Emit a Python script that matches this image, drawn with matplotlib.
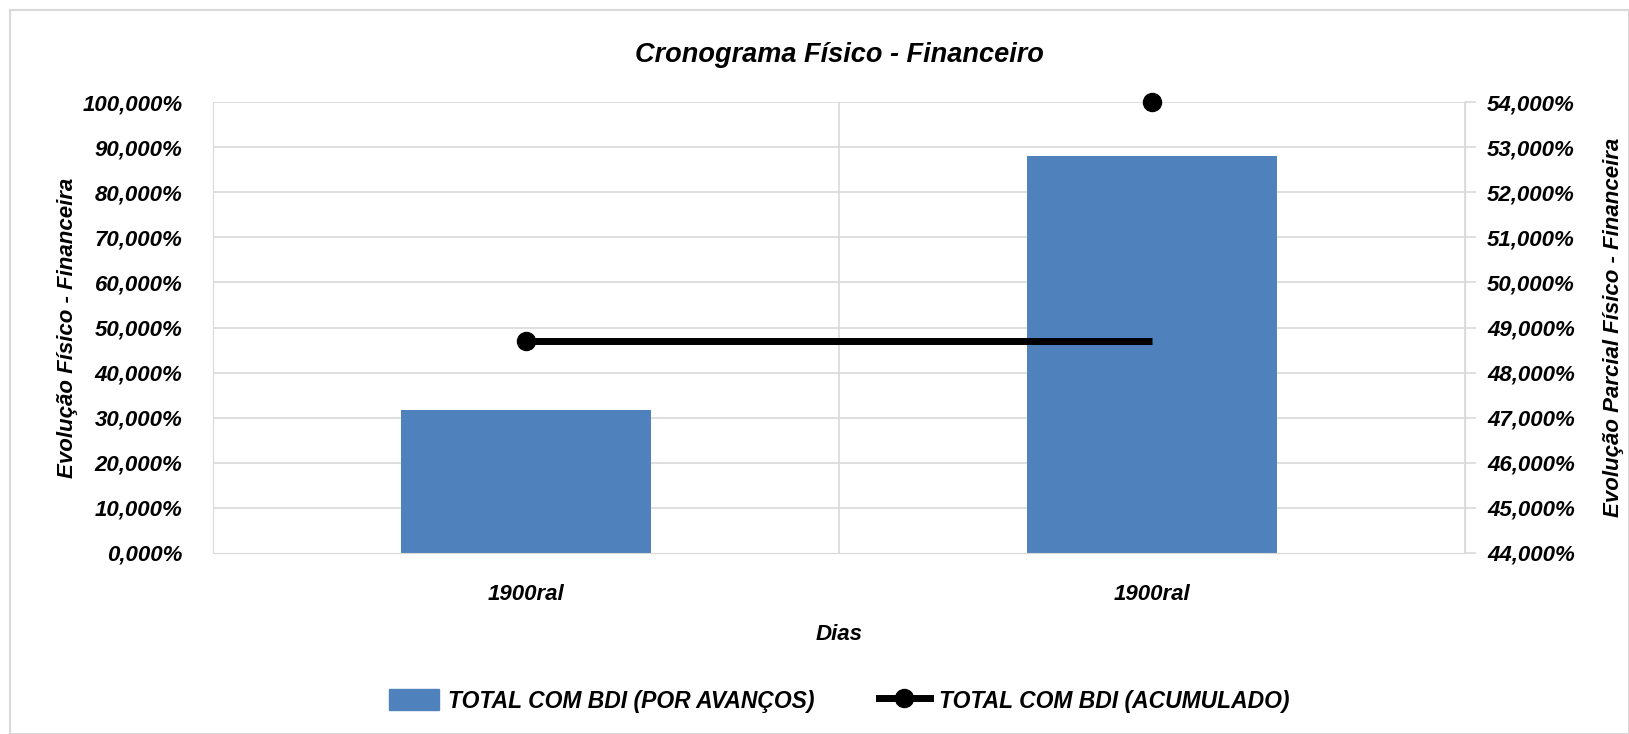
import matplotlib.pyplot as plt
from matplotlib.patches import Rectangle
from matplotlib.lines import Line2D
import numpy as np

categories = ['1900ral', '1900ral']
por_avancos = [31.7, 88.0]
acumulado_line = [48.7, 48.7]
acumulado_marks = [48.7, 54.0]

FONT = ['Liberation Sans', 'DejaVu Sans']
fk = dict(family=FONT, weight='bold', style='italic')
BLUE = '#4f81bd'
GRID = '#d9d9d9'

fig = plt.figure(figsize=(16.29, 7.34), dpi=100)
W, H = 1629, 734
fig.patches.append(Rectangle((10 / W, 0), 1 - 10 / W, 1 - 10 / H, transform=fig.transFigure,
                             fill=False, edgecolor=GRID, linewidth=1.5))

ax = fig.add_axes([213 / W, 1 - 553 / H, (1465 - 213) / W, (553 - 102) / H])
x = np.arange(len(categories))
ax.bar(x, por_avancos, width=0.4, color=BLUE, zorder=2)
ax.set_xlim(-0.5, 1.5)
ax.set_ylim(0, 100)
ax.set_yticks(np.arange(0, 101, 10))
ax.set_yticklabels([f'{v},000%' for v in range(0, 101, 10)], fontsize=16, **fk)
ax.set_xticks(x)
ax.set_xticklabels(categories, fontsize=16, **fk)
ax.tick_params(axis='y', length=0, pad=22)
ax.tick_params(axis='x', length=0, pad=22)
for v in range(10, 101, 10):
    ax.axhline(v, color=GRID, lw=1.2, zorder=0)
for xv in [-0.5, 0.5, 1.5]:
    ax.axvline(xv, color=GRID, lw=1.2, zorder=0)
for s in ax.spines.values():
    s.set_color(GRID)
ax.spines['top'].set_visible(False)
ax.set_xlabel('Dias', fontsize=16, labelpad=14, **fk)
ax.set_ylabel('Evolução Físico - Financeira', fontsize=16, labelpad=3, **fk)
ax.set_title('Cronograma Físico - Financeiro', fontsize=19.5, pad=29, **fk)

ax2 = ax.twinx()
ax2.plot(x, acumulado_line, color='black', lw=5, zorder=3, solid_capstyle='butt')
ax2.plot(x, acumulado_marks, linestyle='none', marker='o', ms=13, color='black',
         zorder=4, clip_on=False)
ax2.set_ylim(44, 54)
ax2.set_yticks(np.arange(44, 55, 1))
ax2.set_yticklabels([f'{v},000%' for v in range(44, 55)], fontsize=16, **fk)
ax2.tick_params(axis='y', length=8, color=GRID, width=1.2, pad=8)
for s in ax2.spines.values():
    s.set_visible(False)
ax2.spines['right'].set_visible(True)
ax2.spines['right'].set_color(GRID)
ax2.set_ylabel('Evolução Parcial Físico - Financeira', fontsize=16, labelpad=20, **fk)

handles = [Rectangle((0, 0), 1, 1, color=BLUE),
           Line2D([], [], color='black', lw=5, marker='o', ms=13)]
cx = (213 + 1465) / 2 / W
fig.legend(handles, ['TOTAL COM BDI (POR AVANÇOS)', 'TOTAL COM BDI (ACUMULADO)'],
           loc='center', bbox_to_anchor=(cx, 1 - 701 / H), ncol=2, frameon=False,
           prop=dict(family=FONT, weight='bold', style='italic', size=16.5),
           columnspacing=2.8, handlelength=2.2, handletextpad=0.4, handleheight=1.0)

fig.savefig('out.png', dpi=100)
